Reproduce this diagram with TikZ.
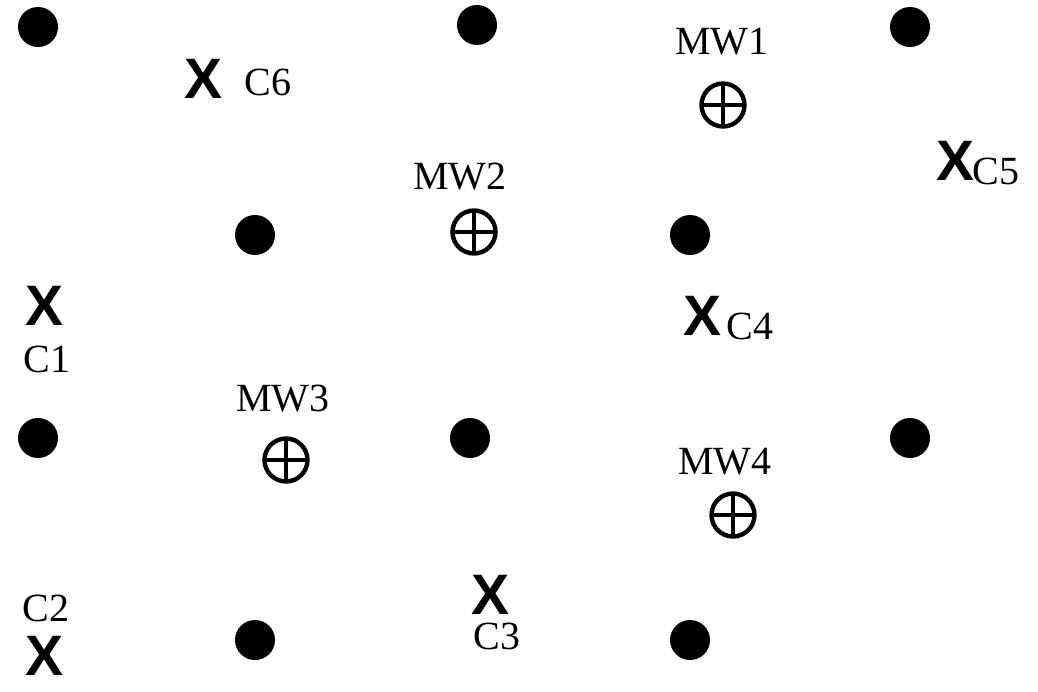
\documentclass[tikz,border=0pt]{standalone}
\usepackage{fontspec}
\setmainfont{Liberation Serif}
\newfontfamily\crossfont{Liberation Sans}
\begin{document}
\begin{tikzpicture}[x=1pt,y=-1pt,
  well/.style={circle,fill=black,inner sep=0pt,minimum size=40pt},
  xmark/.style={inner sep=0pt,font=\crossfont\bfseries\fontsize{57}{57}\selectfont},
  lab/.style={inner sep=0pt,font=\fontsize{40}{40}\selectfont},
  mwell/.style={circle,draw=black,line width=4.4pt,inner sep=0pt,minimum size=43pt,
    path picture={\draw[line width=4.2pt]
      (path picture bounding box.north) -- (path picture bounding box.south)
      (path picture bounding box.west) -- (path picture bounding box.east);}}]
\useasboundingbox (0,0) rectangle (1038,692);
% grid of wells
\node[well] (d1) at (38,27) {};
\node[well] (d2) at (477,25) {};
\node[well] (d3) at (910,27) {};
\node[well] (d4) at (255,235) {};
\node[well] (d5) at (690,235) {};
\node[well] (d6) at (38,438) {};
\node[well] (d7) at (470,438) {};
\node[well] (d8) at (910,438) {};
\node[well] (d9) at (255,640) {};
\node[well] (d10) at (690,640) {};
% monitoring wells
\node[mwell] (mw1) at (723,105) {};
\node[lab] (mw1l) at (722,42) {MW1};
\node[mwell] (mw2) at (474,232) {};
\node[lab] (mw2l) at (460,177) {MW2};
\node[mwell] (mw3) at (286,460) {};
\node[lab] (mw3l) at (283,399) {MW3};
\node[mwell] (mw4) at (733,515) {};
\node[lab] (mw4l) at (725,462) {MW4};
% sampling points
\node[xmark] (x6) at (204,79) {X};
\node[lab] (c6) at (268,82) {C6};
\node[xmark] (x5) at (955,161) {X};
\node[lab] (c5) at (996,171) {C5};
\node[xmark] (x1) at (45,306) {X};
\node[lab] (c1) at (47,359) {C1};
\node[xmark] (x4) at (702,316) {X};
\node[lab] (c4) at (750,326) {C4};
\node[xmark] (x3) at (491,595) {X};
\node[lab] (c3) at (497,636) {C3};
\node[xmark] (x2) at (45,656) {X};
\node[lab] (c2) at (46,608) {C2};
\end{tikzpicture}
\end{document}
